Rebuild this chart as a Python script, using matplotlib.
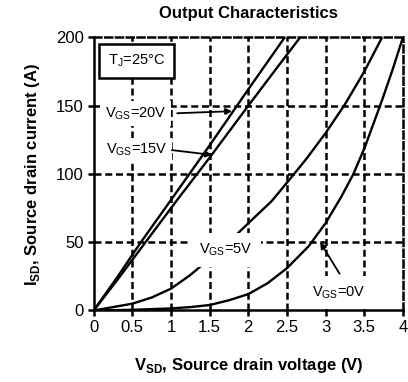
import matplotlib
matplotlib.use('Agg')
from matplotlib import pyplot as plt

plt.rcParams['font.family'] = ['Liberation Sans', 'DejaVu Sans']
plt.rcParams['mathtext.fontset'] = 'custom'
plt.rcParams['mathtext.rm'] = 'Liberation Sans'
plt.rcParams['mathtext.bf'] = 'Liberation Sans:bold'

# curves
v20 = [0, 0.3, 0.61, 1.0, 1.5, 2.0, 2.47]
i20 = [0, 24, 50, 81, 121, 162, 200]
v15 = [0, 0.3, 0.67, 1.08, 1.5, 2.0, 2.4, 2.67]
i15 = [0, 22, 50, 81, 112, 150, 180, 200]
v5 = [0, 0.25, 0.5, 0.75, 1.0, 1.25, 1.5, 1.8, 2.02, 2.3, 2.52, 2.75, 3.0,
      3.25, 3.5, 3.73]
i5 = [0, 2.5, 5, 9.5, 16, 26, 38, 53, 65, 80, 95, 111, 130, 151, 175, 200]
v0 = [0, 0.5, 1.0, 1.25, 1.5, 1.75, 2.0, 2.25, 2.5, 2.78, 3.0, 3.2, 3.36,
      3.51, 3.73, 3.87, 4.0]
i0 = [0, 0.5, 1.5, 2.5, 4, 7.5, 12, 20, 31, 47, 64, 83, 100, 120, 154, 177,
      200]

xticks = [0, 0.5, 1, 1.5, 2, 2.5, 3, 3.5, 4]
xlabels = ['0', '0.5', '1', '1.5', '2', '2.5', '3', '3.5', '4']
yticks = [0, 50, 100, 150, 200]

fig = plt.figure(figsize=(4.08, 3.82), dpi=100)
ax = fig.add_axes([0.2297, 0.1872, 0.7578, 0.7147])

for v, i in [(v20, i20), (v15, i15), (v5, i5), (v0, i0)]:
    ax.plot(v, i, color='black', lw=1.7, zorder=3, solid_capstyle='butt')

dash = (0, (2.8, 1.5))
for x in xticks[1:-1]:
    ax.axvline(x, color='black', lw=1.8, ls=dash, zorder=1)
for y in yticks[1:-1]:
    ax.axhline(y, color='black', lw=1.8, ls=dash, zorder=1)

ax.set_xlim(0, 4)
ax.set_ylim(0, 200)
ax.set_xticks(xticks)
ax.set_xticklabels(xlabels)
ax.set_yticks(yticks)
ax.tick_params(labelsize=12, width=1.8, length=4, direction='out', pad=3)
for side in ['left', 'bottom', 'top', 'right']:
    ax.spines[side].set_linewidth(1.8)
ax.spines['top'].set_linestyle(dash)
ax.spines['right'].set_linestyle(dash)

ax.set_title('Output Characteristics', fontsize=12, fontweight='bold', pad=14)
ax.set_xlabel('V$_\\mathbf{SD}$, Source drain voltage (V)', fontsize=12,
              fontweight='bold', labelpad=15)
ax.set_ylabel('I$_\\mathbf{SD}$, Source drain current (A)', fontsize=12,
              fontweight='bold', labelpad=10)

box = dict(boxstyle='square,pad=0.6', fc='white', ec='black', lw=1.8)
ax.text(0.55, 183, 'T$_\\mathregular{J}$=25°C', fontsize=10.5, ha='center',
        va='center', bbox=box, zorder=5)

arrow = dict(arrowstyle='-|>', color='black', lw=1.3, mutation_scale=9,
             shrinkA=0, shrinkB=0)
ax.text(0.54, 144.5, 'V$_\\mathregular{GS}$=20V', fontsize=10.5, ha='center',
        va='center', bbox=dict(fc='white', ec='none', pad=3), zorder=5)
ax.annotate('', xy=(1.79, 146), xytext=(1.08, 144.5), arrowprops=arrow,
            zorder=6)
ax.text(0.56, 117.5, 'V$_\\mathregular{GS}$=15V', fontsize=10.5, ha='center',
        va='center', bbox=dict(fc='white', ec='none', pad=3), zorder=5)
ax.annotate('', xy=(1.53, 114), xytext=(1.01, 117.5), arrowprops=arrow,
            zorder=6)
ax.text(1.71, 44.3, 'V$_\\mathregular{GS}$=5V', fontsize=10.5, ha='center',
        va='center', bbox=dict(fc='white', ec='none', pad=6), zorder=5)
ax.text(3.17, 13.2, 'V$_\\mathregular{GS}$=0V', fontsize=10.5, ha='center',
        va='center', bbox=dict(fc='white', ec='none', pad=6), zorder=5)
ax.annotate('', xy=(2.93, 50), xytext=(3.18, 27), arrowprops=arrow, zorder=6)

fig.savefig('out.png', dpi=100)
